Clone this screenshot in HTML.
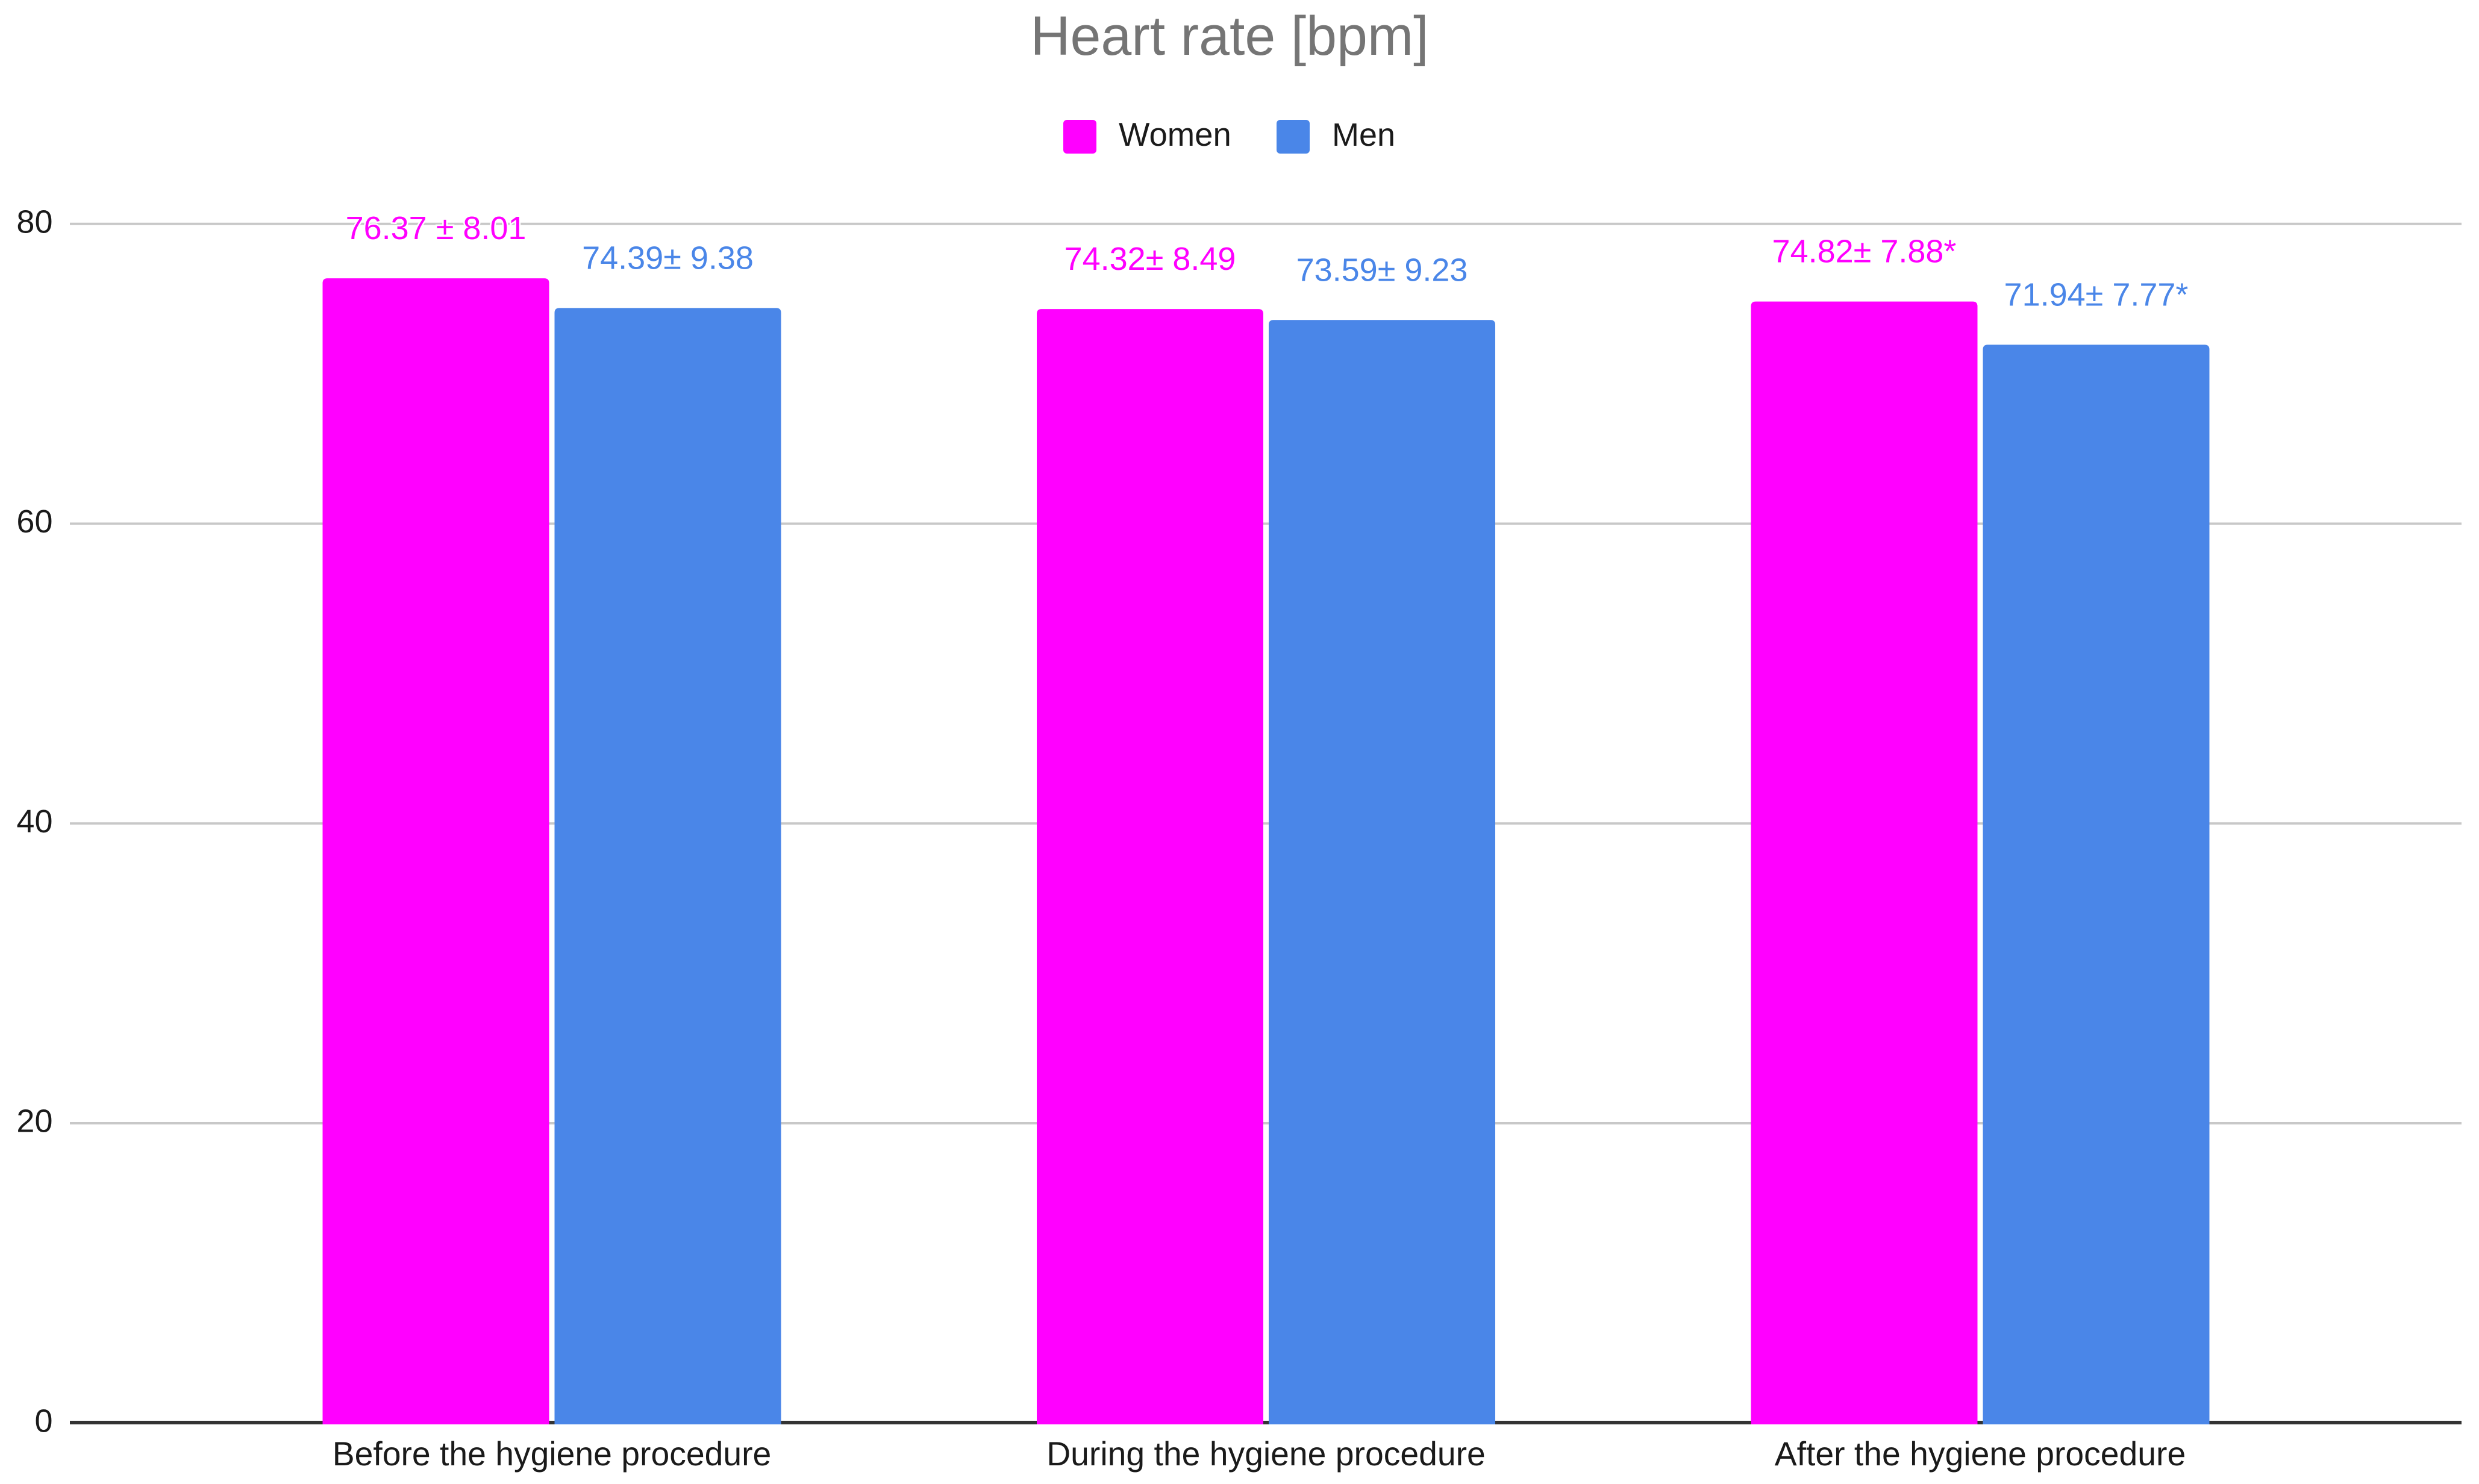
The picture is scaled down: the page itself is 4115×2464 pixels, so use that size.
<!DOCTYPE html>
<html lang="en">
<head>
<meta charset="utf-8">
<title>Heart rate [bpm]</title>
<style>
  html, body { margin: 0; padding: 0; background: #ffffff; }
  svg { display: block; font-family: "Liberation Sans", Arial, sans-serif; }
</style>
</head>
<body>
<svg id="chart" xmlns="http://www.w3.org/2000/svg" width="4115" height="2464" viewBox="0 0 4115 2464">
  <rect x="0" y="0" width="4115" height="2464" fill="#ffffff"/>
  <text x="2041" y="91" font-size="91.5" fill="#757575" text-anchor="middle">Heart rate [bpm]</text>
  <g>
    <g>
      <rect x="1765" y="199" width="55" height="56" rx="6" fill="#ff00ff"/>
      <text x="1857" y="242" font-size="54.5" fill="#1a1a1a">Women</text>
    </g>
    <g>
      <rect x="2119" y="199" width="55" height="56" rx="6" fill="#4a86e8"/>
      <text x="2211" y="242" font-size="54" fill="#1a1a1a">Men</text>
    </g>
  </g>
  <g id="grid"></g>
  <g id="yticks"></g>
  <rect x="116" y="2359" width="3970" height="6" fill="#333333"/>
  <g id="bars"></g>
  <g id="values"></g>
  <g id="xticks"></g>
</svg>
<script>
const categories = ["Before the hygiene procedure", "During the hygiene procedure", "After the hygiene procedure"];
const women = [76.37, 74.32, 74.82];
const men = [74.39, 73.59, 71.94];
const womenLabels = ["76.37 \u00b1 8.01", "74.32\u00b1 8.49", "74.82\u00b1 7.88*"];
const menLabels = ["74.39\u00b1 9.38", "73.59\u00b1 9.23", "71.94\u00b1 7.77*"];
const yTicks = [0, 20, 40, 60, 80];

const NS = "http://www.w3.org/2000/svg";
const WOMEN_COLOR = "#ff00ff";
const MEN_COLOR = "#4a86e8";
const BAR_WIDTH = 376;
const BAR_GAP = 9;
const RADIUS = 8;

function yScale(v) { return 2362.75 - v * (1991 / 80); }
function groupCenter(i) { return 916 + i * 1185.5; }

const grid = document.getElementById("grid");
const yticks = document.getElementById("yticks");
const bars = document.getElementById("bars");
const values = document.getElementById("values");
const xticks = document.getElementById("xticks");

yTicks.forEach(function (t) {
  const y = yScale(t);
  if (t !== 0) {
    const line = document.createElementNS(NS, "rect");
    
    
    line.setAttribute("x", 116);
    line.setAttribute("y", y - 2);
    line.setAttribute("width", 3970);
    line.setAttribute("height", 4);
    line.setAttribute("fill", "#c8c8c8");
    grid.appendChild(line);
  }
  const label = document.createElementNS(NS, "text");
  
  
  label.setAttribute("x", 87.5);
  label.setAttribute("y", y + 14.5);
  label.setAttribute("font-size", 54);
  label.setAttribute("fill", "#1a1a1a");
  label.setAttribute("text-anchor", "end");
  label.textContent = String(t);
  yticks.appendChild(label);
});

function drawBar(left, value, color, name) {
  const top = yScale(value);
  const bottom = yScale(0) + 2.25;
  const right = left + BAR_WIDTH;
  const bar = document.createElementNS(NS, "path");
  
  
  bar.setAttribute("d",
    "M" + left + " " + bottom +
    "V" + (top + RADIUS) +
    "Q" + left + " " + top + " " + (left + RADIUS) + " " + top +
    "H" + (right - RADIUS) +
    "Q" + right + " " + top + " " + right + " " + (top + RADIUS) +
    "V" + bottom + "Z");
  bar.setAttribute("fill", color);
  bars.appendChild(bar);
}

function drawValue(cx, value, text, color, name) {
  const y = yScale(value) - 65;
  const label = document.createElementNS(NS, "text");
  
  
  label.setAttribute("x", cx);
  label.setAttribute("y", y);
  label.setAttribute("font-size", 54);
  label.setAttribute("fill", color);
  label.setAttribute("stroke", "#ffffff");
  label.setAttribute("stroke-width", 5);
  label.setAttribute("paint-order", "stroke");
  label.setAttribute("text-anchor", "middle");
  label.textContent = text;
  values.appendChild(label);
}

categories.forEach(function (cat, i) {
  const c = groupCenter(i);
  const womenLeft = c - BAR_GAP / 2 - BAR_WIDTH;
  const menLeft = c + BAR_GAP / 2;
  drawBar(womenLeft, women[i], WOMEN_COLOR, 'bar-women-' + (i + 1));
  drawBar(menLeft, men[i], MEN_COLOR, 'bar-men-' + (i + 1));
  drawValue(womenLeft + BAR_WIDTH / 2, women[i], womenLabels[i], WOMEN_COLOR, 'value-label-women-' + (i + 1));
  drawValue(menLeft + BAR_WIDTH / 2, men[i], menLabels[i], MEN_COLOR, 'value-label-men-' + (i + 1));

  const label = document.createElementNS(NS, "text");
  
  
  label.setAttribute("x", c);
  label.setAttribute("y", 2433);
  label.setAttribute("font-size", 55.3);
  label.setAttribute("fill", "#1a1a1a");
  label.setAttribute("text-anchor", "middle");
  label.textContent = cat;
  xticks.appendChild(label);
});
</script>
</body>
</html>
